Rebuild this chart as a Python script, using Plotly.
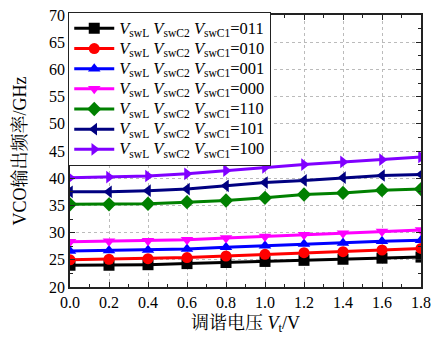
import plotly.graph_objects as go

vt = [0.0, 0.2, 0.4, 0.6, 0.8, 1.0, 1.2, 1.4, 1.6, 1.8]

f_011 = [24.0, 24.0, 24.1, 24.3, 24.5, 24.7, 24.9, 25.1, 25.3, 25.5]
f_010 = [25.0, 25.1, 25.2, 25.4, 25.7, 26.0, 26.3, 26.5, 26.8, 27.1]
f_001 = [26.6, 26.7, 26.8, 27.0, 27.3, 27.6, 27.9, 28.1, 28.4, 28.6]
f_000 = [28.3, 28.4, 28.5, 28.7, 29.0, 29.3, 29.6, 29.9, 30.2, 30.5]
f_110 = [35.2, 35.2, 35.3, 35.6, 35.9, 36.4, 37.0, 37.3, 37.8, 38.0]
f_101 = [37.5, 37.5, 37.7, 38.0, 38.6, 39.2, 39.6, 40.1, 40.5, 40.7]
f_100 = [40.1, 40.2, 40.4, 40.8, 41.4, 42.0, 42.5, 43.0, 43.4, 43.9]

codes = ["011", "010", "001", "000", "110", "101", "100"]
series = [f_011, f_010, f_001, f_000, f_110, f_101, f_100]
colors = ["#000000", "#FF0000", "#0000FF", "#FF00FF", "#008000", "#000080", "#8000FF"]
symbols = ["square", "circle", "triangle-up", "triangle-down", "diamond",
           "triangle-left", "triangle-right"]

serif = "Liberation Serif, Times New Roman, Noto Serif CJK SC, Noto Sans CJK SC, serif"

fig = go.Figure()
for code, ys, c, s in zip(codes, series, colors, symbols):
    name = ('<span style="font-size:16.5px"><i>V</i><sub>swL</sub> <i>V</i><sub>swC2</sub> '
            '<i>V</i><sub>swC1</sub>=' + code + '</span>')
    fig.add_trace(go.Scatter(
        x=vt, y=ys, mode="lines+markers", name=name,
        line=dict(color=c, width=3),
        marker=dict(symbol=s, size=11, color=c),
    ))

axis_common = dict(
    showline=True, linecolor="#222222", linewidth=1.5, mirror="ticks",
    ticks="inside", ticklen=5, tickwidth=1.2, tickcolor="#222222",
    showgrid=True, gridcolor="#BBBBBB", griddash="dot", gridwidth=1,
    zeroline=False, automargin=False,
    tickfont=dict(family=serif, size=16, color="black"),
    minor=dict(ticks="inside", ticklen=3, tickcolor="#222222", showgrid=False),
)

fig.update_xaxes(range=[0, 1.8], dtick=0.2, tickformat=".1f",
                 title=dict(text="调谐电压 <i>V</i><sub>t</sub>/V",
                            font=dict(family=serif, size=18, color="black"),
                            standoff=6),
                 minor_dtick=0.1, **axis_common)
fig.update_yaxes(range=[20, 70], dtick=5,
                 title=dict(text="VCO输出频率/GHz",
                            font=dict(family=serif, size=18, color="black"),
                            standoff=18),
                 minor_dtick=2.5, **axis_common)

fig.update_layout(
    width=434, height=341,
    margin=dict(l=70, r=13, t=15, b=54, autoexpand=False),
    paper_bgcolor="white", plot_bgcolor="white",
    showlegend=True,
    legend=dict(x=-0.005, y=1.01, xanchor="left", yanchor="top",
                bgcolor="white", bordercolor="#222222", borderwidth=1,
                font=dict(family=serif, size=13.2, color="black"),
                tracegroupgap=0, itemwidth=40),
)

fig.write_html("out.html",
               config={"displayModeBar": False},
               post_script="document.body.style.margin='0';document.body.style.padding='0';")
